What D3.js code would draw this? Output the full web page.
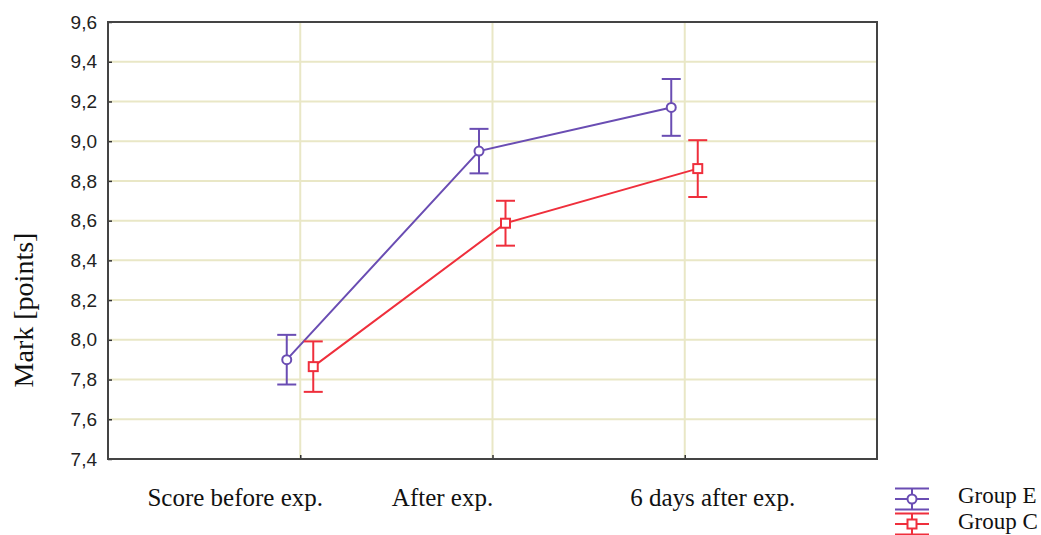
<!DOCTYPE html>
<html>
<head>
<meta charset="utf-8">
<script src="https://cdn.jsdelivr.net/npm/d3@7"></script>
<style>
  html, body { margin: 0; padding: 0; background: #fff; }
  svg { display: block; }
</style>
</head>
<body>
<svg id="chart" width="1041" height="535"></svg>
<script>
// Measurement occasions
const categories = ["Score before exp.", "After exp.", "6 days after exp."];
// Mean marks and error half-widths per group
const groupE = [7.90, 8.95, 9.17];
const groupEErr = [0.125, 0.112, 0.143];
const groupC = [7.865, 8.587, 8.862];
const groupCErr = [0.127, 0.113, 0.143];
const yTicks = [7.4, 7.6, 7.8, 8.0, 8.2, 8.4, 8.6, 8.8, 9.0, 9.2, 9.4, 9.6];
const seriesNames = ["Group E", "Group C"];

const svg = d3.select("#chart");
const plotLeft = 108, plotRight = 877, plotTop = 22, plotBottom = 459;

const x = d3.scalePoint().domain(categories).range([plotLeft, plotRight]).padding(1);
const y = d3.scaleLinear().domain([7.4, 9.6]).range([plotBottom, plotTop]);

const gridColor = "#e9e7c6";
const colors = { E: "#6a4db3", C: "#ef2f3c" };
const dodge = { E: -13.5, C: 13 };
const serif = "Liberation Serif, Times New Roman, serif";

// Horizontal gridlines
svg.append("g").selectAll("line").data(yTicks.slice(1, -1)).join("line")
  .attr("x1", plotLeft).attr("x2", plotRight)
  .attr("y1", d => y(d)).attr("y2", d => y(d))
  .attr("stroke", gridColor).attr("stroke-width", 2);

// Vertical gridlines at each occasion
svg.append("g").selectAll("line").data(categories).join("line")
  .attr("x1", d => x(d)).attr("x2", d => x(d))
  .attr("y1", plotTop).attr("y2", plotBottom)
  .attr("stroke", gridColor).attr("stroke-width", 2);

// Y axis with comma decimals
const yAxis = d3.axisLeft(y).tickValues(yTicks)
  .tickFormat(d => d3.format(".1f")(d).replace(".", ","))
  .tickSize(-4).tickPadding(11);
const gy = svg.append("g").attr("transform", `translate(${plotLeft},0)`).call(yAxis);
gy.select(".domain").remove();
gy.selectAll(".tick line").attr("stroke", "#333").attr("stroke-width", 1.5);
gy.selectAll(".tick text")
  .attr("font-family", "Liberation Sans, Arial, sans-serif")
  .attr("font-size", 19).attr("fill", "#222");

// X axis ticks (inner) with labels placed below
const xAxis = d3.axisBottom(x).tickSize(-4).tickFormat("");
const gx = svg.append("g").attr("transform", `translate(0,${plotBottom})`).call(xAxis);
gx.select(".domain").remove();
gx.selectAll(".tick line").attr("stroke", "#333").attr("stroke-width", 1.5);

const labelShift = [-65, -50, 28];
svg.append("g").selectAll("text").data(categories).join("text")
  .attr("x", (d, i) => x(d) + labelShift[i])
  .attr("y", 506)
  .attr("text-anchor", "middle")
  .attr("font-family", serif)
  .attr("font-size", 25).attr("fill", "#111")
  .text(d => d);

// Frame
svg.append("rect")
  .attr("x", plotLeft).attr("y", plotTop)
  .attr("width", plotRight - plotLeft).attr("height", plotBottom - plotTop)
  .attr("fill", "none").attr("stroke", "#444").attr("stroke-width", 2);

// Y axis title
svg.append("text")
  .attr("transform", "translate(33,310) rotate(-90)")
  .attr("text-anchor", "middle")
  .attr("font-family", serif)
  .attr("font-size", 28).attr("fill", "#111")
  .text("Mark [points]");

function drawSeries(values, errs, key, marker) {
  const g = svg.append("g");
  const pts = values.map((v, i) => ({ cx: x(categories[i]) + dodge[key], v, e: errs[i] }));
  g.append("path")
    .datum(pts)
    .attr("fill", "none").attr("stroke", colors[key]).attr("stroke-width", 2)
    .attr("d", d3.line().x(d => d.cx).y(d => y(d.v)));
  const eb = g.selectAll("g.err").data(pts).join("g").attr("class", "err")
    .attr("stroke", colors[key]).attr("stroke-width", 2).attr("fill", "none");
  eb.append("line").attr("x1", d => d.cx).attr("x2", d => d.cx)
    .attr("y1", d => y(d.v + d.e)).attr("y2", d => y(d.v - d.e));
  eb.append("line").attr("x1", d => d.cx - 9.5).attr("x2", d => d.cx + 9.5)
    .attr("y1", d => y(d.v + d.e)).attr("y2", d => y(d.v + d.e));
  eb.append("line").attr("x1", d => d.cx - 9.5).attr("x2", d => d.cx + 9.5)
    .attr("y1", d => y(d.v - d.e)).attr("y2", d => y(d.v - d.e));
  if (marker === "circle") {
    eb.append("circle").attr("cx", d => d.cx).attr("cy", d => y(d.v)).attr("r", 4.5)
      .attr("fill", "#fff");
  } else {
    eb.append("rect").attr("x", d => d.cx - 4.5).attr("y", d => y(d.v) - 4.5)
      .attr("width", 9).attr("height", 9).attr("fill", "#fff");
  }
}
drawSeries(groupE, groupEErr, "E", "circle");
drawSeries(groupC, groupCErr, "C", "square");

// Legend
const legend = svg.append("g");
const legendItems = [
  { name: seriesNames[0], key: "E", marker: "circle", cy: 499, base: 503 },
  { name: seriesNames[1], key: "C", marker: "square", cy: 524, base: 529 }
];
legendItems.forEach(it => {
  const g = legend.append("g").attr("stroke", colors[it.key]).attr("stroke-width", 2).attr("fill", "none");
  const cx = 912;
  [-10.5, 0, 10.5].forEach(dy => {
    g.append("line").attr("x1", cx - 17).attr("x2", cx + 17)
      .attr("y1", it.cy + dy).attr("y2", it.cy + dy);
  });
  g.append("line").attr("x1", cx).attr("x2", cx).attr("y1", it.cy - 10.5).attr("y2", it.cy + 10.5);
  if (it.marker === "circle") {
    g.append("circle").attr("cx", cx).attr("cy", it.cy).attr("r", 4.5).attr("fill", "#fff");
  } else {
    g.append("rect").attr("x", cx - 4.5).attr("y", it.cy - 4.5).attr("width", 9).attr("height", 9).attr("fill", "#fff");
  }
  legend.append("text")
    .attr("x", 958).attr("y", it.base)
    .attr("font-family", serif)
    .attr("font-size", 23).attr("fill", "#111")
    .text(it.name);
});
</script>
</body>
</html>
